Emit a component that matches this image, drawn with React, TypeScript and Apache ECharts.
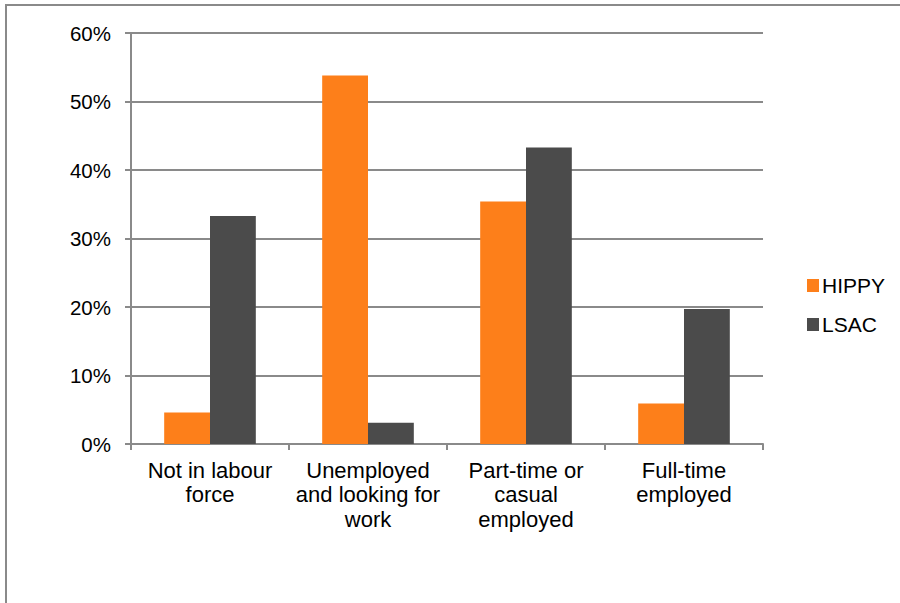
import React, { useEffect, useRef } from "react";
import * as echarts from "echarts";

const categories = [
  "Not in labour\nforce",
  "Unemployed\nand looking for\nwork",
  "Part-time or\ncasual\nemployed",
  "Full-time\nemployed",
];
const hippy = [4.6, 53.8, 35.4, 5.9];
const lsac = [33.3, 3.1, 43.3, 19.7];
const seriesNames = ["HIPPY", "LSAC"];
const colors = ["#FD7F1A", "#4B4B4B"];

export default function App() {
  const ref = useRef<HTMLDivElement>(null);
  useEffect(() => {
    document.body.style.margin = "0";
    const chart = echarts.init(ref.current!, null, { renderer: "svg" });
    const font = "'Liberation Sans', Arial, sans-serif";
    chart.setOption({
      animation: false,
      backgroundColor: "#ffffff",
      textStyle: { fontFamily: font },
      graphic: [
        {
          type: "rect",
          shape: { x: 6, y: 5, width: 1000, height: 1000 },
          style: { fill: "none", stroke: "#8a8a8a", lineWidth: 2 },
          silent: true,
        },
      ],
      grid: { left: 131, right: 137, top: 33, bottom: 159, containLabel: false },
      legend: {
        orient: "vertical",
        left: 802,
        top: 270,
        itemWidth: 12,
        itemHeight: 13,
        itemGap: 18,
        icon: "rect",
        data: seriesNames,
        textStyle: { fontSize: 21, color: "#000", fontFamily: font, padding: [0, 0, 0, -2] },
      },
      xAxis: {
        type: "category",
        data: categories,
        axisLine: { lineStyle: { color: "#8a8a8a", width: 2 } },
        axisTick: { show: true, length: 6, lineStyle: { color: "#8a8a8a", width: 2 } },
        axisLabel: {
          color: "#000",
          fontSize: 22,
          lineHeight: 24.5,
          margin: 14,
          interval: 0,
          fontFamily: font,
        },
      },
      yAxis: {
        type: "value",
        min: 0,
        max: 60,
        interval: 10,
        axisLine: { show: true, lineStyle: { color: "#8a8a8a", width: 2 } },
        axisTick: { show: true, length: 6, lineStyle: { color: "#8a8a8a", width: 2 } },
        splitLine: { lineStyle: { color: "#8a8a8a", width: 2 } },
        axisLabel: {
          color: "#000",
          fontSize: 20.5,
          margin: 20,
          formatter: "{value}%",
          fontFamily: font,
        },
      },
      series: [
        {
          name: seriesNames[0],
          type: "bar",
          data: hippy,
          itemStyle: { color: colors[0] },
          barGap: "0%",
          barCategoryGap: "42%",
        },
        {
          name: seriesNames[1],
          type: "bar",
          data: lsac,
          itemStyle: { color: colors[1] },
          barGap: "0%",
          barCategoryGap: "42%",
        },
      ],
    });
    return () => chart.dispose();
  }, []);
  return (
    <div
      ref={ref}
      style={{ position: "fixed", left: 0, top: 0, width: 900, height: 603 }}
    />
  );
}
